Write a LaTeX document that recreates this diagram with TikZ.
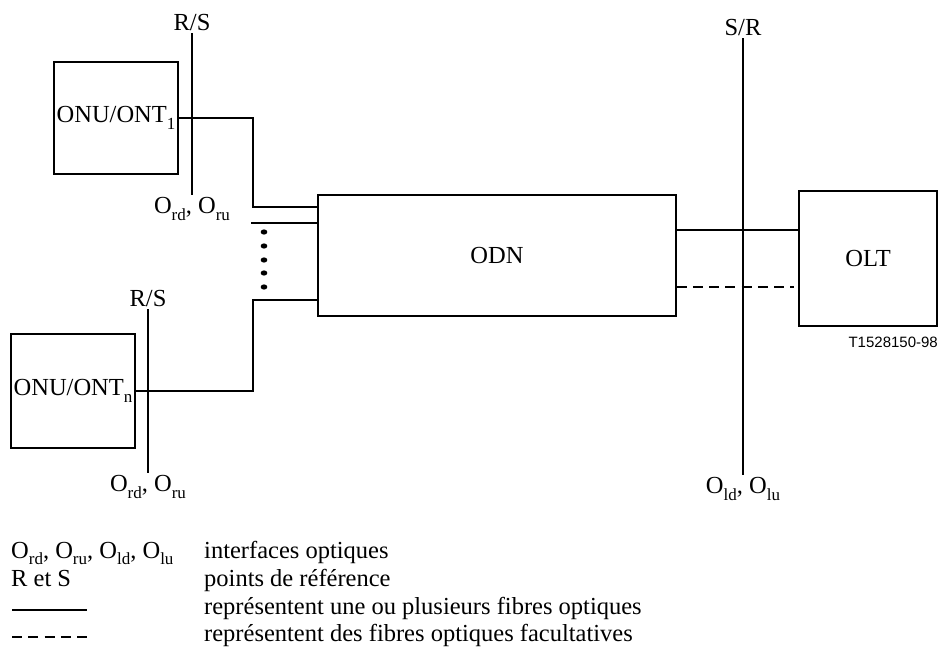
\documentclass[tikz,border=0pt]{standalone}
\usepackage{fontspec}
\setmainfont{Liberation Serif}
\newfontfamily\codefont{Liberation Sans}
\usetikzlibrary{positioning}
\newcommand{\figfont}{\fontsize{24.5pt}{28pt}\selectfont}
\newcommand{\subtxt}[1]{\raisebox{-0.28em}{\fontsize{17pt}{17pt}\selectfont #1}}
\tikzset{
    unit/.style={draw,line width=1.3pt,inner sep=0pt,font=\figfont},
    fibre/.style={line width=2.1pt},
    spare/.style={fibre,dash pattern=on 10pt off 6.25pt},
    reflabel/.style={font=\figfont,inner sep=1pt},
    keytext/.style={reflabel,anchor=base west},
}

\begin{document}
\begin{tikzpicture}[x=1pt,y=-1pt]
    \useasboundingbox (0,0) rectangle (940,648);

    % equipment
    \node[unit,minimum width=124pt,minimum height=112pt] (onu1) at (116,118) {ONU/ONT\subtxt{1}};
    \node[unit,minimum width=124pt,minimum height=114pt] (onun) at (73,391) {ONU/ONT\subtxt{n}};
    \node[unit,minimum width=358pt,minimum height=121pt] (odn) at (497,255.5) {ODN};
    \node[unit,minimum width=138pt,minimum height=135pt] (olt) at (868,258.5) {OLT};
    \node[font=\codefont\fontsize{15pt}{15pt}\selectfont,anchor=north east,inner sep=0pt] (code) at (938,337) {T1528150-98};

    % reference points
    \coordinate (rs1 top) at (192,33);
    \coordinate (rs1 bot) at (192,195);
    \coordinate (rsn top) at (148,309);
    \coordinate (rsn bot) at (148,473);
    \coordinate (sr top) at (743,38);
    \coordinate (sr bot) at (743,475);

    \draw[fibre] (rs1 top) -- (rs1 bot);
    \draw[fibre] (rsn top) -- (rsn bot);
    \draw[fibre] (sr top) -- (sr bot);

    \node[reflabel,above=1pt of rs1 top] (rs1 lab) {R/S};
    \node[reflabel,below=1pt of rs1 bot] (o1 lab) {O\subtxt{rd}, O\subtxt{ru}};
    \node[reflabel,above=1pt of rsn top] (rsn lab) {R/S};
    \node[reflabel,below=1pt of rsn bot] (on lab) {O\subtxt{rd}, O\subtxt{ru}};
    \node[reflabel,above=1pt of sr top] (sr lab) {S/R};
    \node[reflabel,below=1pt of sr bot] (ol lab) {O\subtxt{ld}, O\subtxt{lu}};

    % fibres
    \coordinate (j1) at (253,207);
    \coordinate (jn) at (253,300);
    \coordinate (spare in) at (251,223);
    \coordinate (spare out) at (794,287);
    \draw[fibre] (onu1.east) -| (j1) -- (odn.west |- j1);
    \draw[fibre] (onun.east) -| (jn) -- (odn.west |- jn);
    \draw[fibre] (spare in) -- (odn.west |- spare in);
    \foreach \y in {232,246,260,273,287}
        \fill (264,\y) ellipse (3.3pt and 2.6pt);
    \draw[fibre] (odn.east |- 0,230) -- (olt.west |- 0,230);
    \draw[spare] (odn.east |- spare out) -- (spare out);

    % key
    \coordinate (key a) at (12,610);
    \coordinate (key b) at (87,610);
    \coordinate (key c) at (12,637);
    \coordinate (key d) at (87,637);
    \node[keytext] (key1) at (10,558) {O\subtxt{rd}, O\subtxt{ru}, O\subtxt{ld}, O\subtxt{lu}};
    \node[keytext] (key2) at (10,586) {R et S};
    \node[keytext] (txt1) at (203,558) {interfaces optiques};
    \node[keytext] (txt2) at (203,586) {points de référence};
    \node[keytext] (txt3) at (203,614) {représentent une ou plusieurs fibres optiques};
    \node[keytext] (txt4) at (203,641) {représentent des fibres optiques facultatives};
    \draw[fibre] (key a) -- (key b);
    \draw[spare] (key c) -- (key d);
\end{tikzpicture}
\end{document}
